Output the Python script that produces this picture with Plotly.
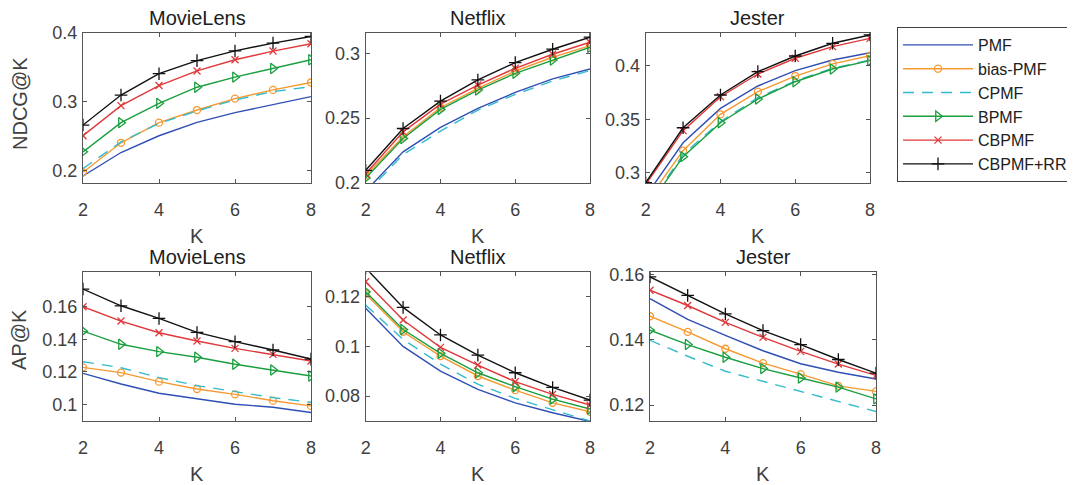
import plotly.graph_objects as go

K = [2, 3, 4, 5, 6, 7, 8]
methods = ["PMF", "bias-PMF", "CPMF", "BPMF", "CBPMF", "CBPMF+RR"]
datasets = ["MovieLens", "Netflix", "Jester"]

# NDCG@K
ndcg_movielens = {
    "PMF":      [0.1927, 0.2267, 0.2510, 0.2704, 0.2845, 0.2966, 0.3078],
    "bias-PMF": [0.1980, 0.2408, 0.2700, 0.2883, 0.3049, 0.3175, 0.3282],
    "CPMF":     [0.2034, 0.2420, 0.2690, 0.2870, 0.3030, 0.3150, 0.3223],
    "BPMF":     [0.2277, 0.2700, 0.2980, 0.3214, 0.3360, 0.3485, 0.3612],
    "CBPMF":    [0.2510, 0.2947, 0.3238, 0.3450, 0.3612, 0.3738, 0.3845],
    "CBPMF+RR": [0.2665, 0.3100, 0.3410, 0.3600, 0.3740, 0.3854, 0.3950],
}
ndcg_netflix = {
    "PMF":      [0.1938, 0.2240, 0.2428, 0.2575, 0.2698, 0.2802, 0.2879],
    "bias-PMF": [0.2057, 0.2356, 0.2582, 0.2729, 0.2863, 0.2969, 0.3059],
    "CPMF":     [0.1920, 0.2219, 0.2400, 0.2562, 0.2683, 0.2786, 0.2866],
    "BPMF":     [0.2039, 0.2343, 0.2567, 0.2716, 0.2845, 0.2948, 0.3046],
    "CBPMF":    [0.2072, 0.2394, 0.2608, 0.2755, 0.2884, 0.2992, 0.3085],
    "CBPMF+RR": [0.2098, 0.2420, 0.2631, 0.2794, 0.2928, 0.3031, 0.3124],
}
ndcg_jester = {
    "PMF":      [0.2780, 0.3280, 0.3601, 0.3810, 0.3953, 0.4053, 0.4121],
    "bias-PMF": [0.2720, 0.3206, 0.3545, 0.3757, 0.3903, 0.4016, 0.4093],
    "CPMF":     [0.2660, 0.3171, 0.3477, 0.3701, 0.3857, 0.3975, 0.4053],
    "BPMF":     [0.2650, 0.3150, 0.3467, 0.3688, 0.3850, 0.3969, 0.4047],
    "CBPMF":    [0.2890, 0.3393, 0.3710, 0.3922, 0.4069, 0.4178, 0.4255],
    "CBPMF+RR": [0.2907, 0.3420, 0.3726, 0.3944, 0.4090, 0.4209, 0.4287],
}
# AP@K
ap_movielens = {
    "PMF":      [0.1190, 0.1125, 0.1068, 0.1033, 0.1000, 0.0982, 0.0949],
    "bias-PMF": [0.1227, 0.1195, 0.1139, 0.1094, 0.1061, 0.1022, 0.0990],
    "CPMF":     [0.1262, 0.1225, 0.1164, 0.1115, 0.1078, 0.1041, 0.1012],
    "BPMF":     [0.1450, 0.1369, 0.1324, 0.1289, 0.1246, 0.1211, 0.1174],
    "CBPMF":    [0.1600, 0.1512, 0.1440, 0.1389, 0.1344, 0.1307, 0.1266],
    "CBPMF+RR": [0.1709, 0.1606, 0.1528, 0.1442, 0.1385, 0.1334, 0.1278],
}
ap_netflix = {
    "PMF":      [0.1153, 0.1000, 0.0901, 0.0827, 0.0773, 0.0733, 0.0698],
    "bias-PMF": [0.1211, 0.1059, 0.0961, 0.0881, 0.0824, 0.0773, 0.0737],
    "CPMF":     [0.1166, 0.1028, 0.0929, 0.0848, 0.0791, 0.0744, 0.0700],
    "BPMF":     [0.1220, 0.1068, 0.0972, 0.0894, 0.0838, 0.0788, 0.0748],
    "CBPMF":    [0.1260, 0.1106, 0.0996, 0.0925, 0.0858, 0.0807, 0.0764],
    "CBPMF+RR": [0.1315, 0.1157, 0.1046, 0.0965, 0.0894, 0.0835, 0.0784],
}
ap_jester = {
    "PMF":      [0.1527, 0.1463, 0.1414, 0.1367, 0.1327, 0.1301, 0.1280],
    "bias-PMF": [0.1473, 0.1425, 0.1373, 0.1329, 0.1295, 0.1259, 0.1242],
    "CPMF":     [0.1399, 0.1350, 0.1304, 0.1273, 0.1240, 0.1211, 0.1180],
    "BPMF":     [0.1430, 0.1386, 0.1347, 0.1312, 0.1283, 0.1255, 0.1219],
    "CBPMF":    [0.1553, 0.1506, 0.1454, 0.1408, 0.1365, 0.1326, 0.1291],
    "CBPMF+RR": [0.1594, 0.1537, 0.1480, 0.1429, 0.1386, 0.1340, 0.1298],
}

panels = [ndcg_movielens, ndcg_netflix, ndcg_jester, ap_movielens, ap_netflix, ap_jester]
y_ranges = [[0.1825, 0.4], [0.2, 0.3156], [0.2904, 0.4305],
            [0.0897, 0.1812], [0.07, 0.1298], [0.1151, 0.1608]]
y_ticks = [[0.2, 0.3, 0.4], [0.2, 0.25, 0.3], [0.3, 0.35, 0.4],
           [0.1, 0.12, 0.14, 0.16], [0.08, 0.1, 0.12], [0.12, 0.14, 0.16]]
y_ticktext = [["0.2", "0.3", "0.4"], ["0.2", "0.25", "0.3"], ["0.3", "0.35", "0.4"],
              ["0.1", "0.12", "0.14", "0.16"], ["0.08", "0.1", "0.12"], ["0.12", "0.14", "0.16"]]
x_ticks = [2, 4, 6, 8]

W, H = 1075, 485
OFF = 8  # page body margin offset
# pixel boxes in the screenshot (left, right, top, bottom)
boxes = [(83, 311, 33, 183), (365.7, 590, 33, 183), (645.7, 870, 33, 183),
         (83, 311, 272.3, 421), (365.7, 590, 272.3, 421), (650, 876, 272.3, 421)]


def px(xp):
    return (xp - OFF) / W


def py(yp):
    return 1 - (yp - OFF) / H


styles = {
    "PMF":      dict(color="#2F4FB5", dash="solid", symbol=None, size=0),
    "bias-PMF": dict(color="#F59A32", dash="solid", symbol="circle-open", size=7),
    "CPMF":     dict(color="#33BBCC", dash="11px,8px", symbol=None, size=0),
    "BPMF":     dict(color="#1A9E3F", dash="solid", symbol="triangle-right-open", size=9),
    "CBPMF":    dict(color="#E0383A", dash="solid", symbol="x-thin-open", size=7),
    "CBPMF+RR": dict(color="#111111", dash="solid", symbol="cross-thin-open", size=9),
}

FONT = "Liberation Sans, Arial, sans-serif"
fig = go.Figure()

for i, data in enumerate(panels):
    ax = "" if i == 0 else str(i + 1)
    for m in methods:
        s = styles[m]
        mode = "lines" if s["symbol"] is None else "lines+markers"
        tr = go.Scatter(
            x=K, y=data[m], name=m, mode=mode,
            line=dict(color=s["color"], width=1.4, dash=s["dash"]),
            xaxis="x" + ax, yaxis="y" + ax,
            showlegend=(i == 0), legendgroup=m, cliponaxis=True,
        )
        if s["symbol"] is not None:
            tr.marker = dict(symbol=s["symbol"], size=s["size"], color=s["color"],
                             line=dict(color=s["color"], width=1.3))
        fig.add_trace(tr)

    l, r, t, b = boxes[i]
    axis_common = dict(showline=True, linecolor="#555555", linewidth=1, mirror="ticks",
                       ticks="inside", ticklen=4, tickcolor="#555555", showgrid=False,
                       zeroline=False, automargin=False,
                       tickfont=dict(family=FONT, size=18, color="#404040"))
    fig.update_layout(**{
        "xaxis" + ax: dict(domain=[px(l), px(r)], range=[2, 8], tickvals=x_ticks,
                           anchor="y" + ax, ticklabelstandoff=10, **axis_common),
        "yaxis" + ax: dict(domain=[py(b), py(t)], range=y_ranges[i],
                           tickvals=y_ticks[i], ticktext=y_ticktext[i],
                           anchor="x" + ax, ticklabelstandoff=1, **axis_common),
    })
    # subplot title
    fig.add_annotation(text=datasets[i % 3], x=px((l + r) / 2), y=py(t - 15),
                       xref="paper", yref="paper", showarrow=False,
                       xanchor="center", yanchor="middle",
                       font=dict(family=FONT, size=20, color="#202020"))
    # x-axis label
    fig.add_annotation(text="K", x=px((l + r) / 2), y=py(b + 53),
                       xref="paper", yref="paper", showarrow=False,
                       xanchor="center", yanchor="middle",
                       font=dict(family=FONT, size=20, color="#404040"))

fig.add_annotation(text="NDCG@K", x=px(20), y=py(104), xref="paper", yref="paper",
                   showarrow=False, textangle=-90, xanchor="center", yanchor="middle",
                   font=dict(family=FONT, size=20, color="#404040"))
fig.add_annotation(text="AP@K", x=px(19), y=py(340), xref="paper", yref="paper",
                   showarrow=False, textangle=-90, xanchor="center", yanchor="middle",
                   font=dict(family=FONT, size=20, color="#404040"))

fig.update_layout(
    template="none",
    width=W, height=H,
    margin=dict(l=0, r=0, t=0, b=0, autoexpand=False),
    paper_bgcolor="white", plot_bgcolor="white",
    legend=dict(x=px(897), y=py(27), xanchor="left", yanchor="top",
                bordercolor="#404040", borderwidth=1, bgcolor="white",
                font=dict(family=FONT, size=16, color="#202020"),
                itemwidth=70, tracegroupgap=0),
    showlegend=True,
)

fig.write_html("out.html")
